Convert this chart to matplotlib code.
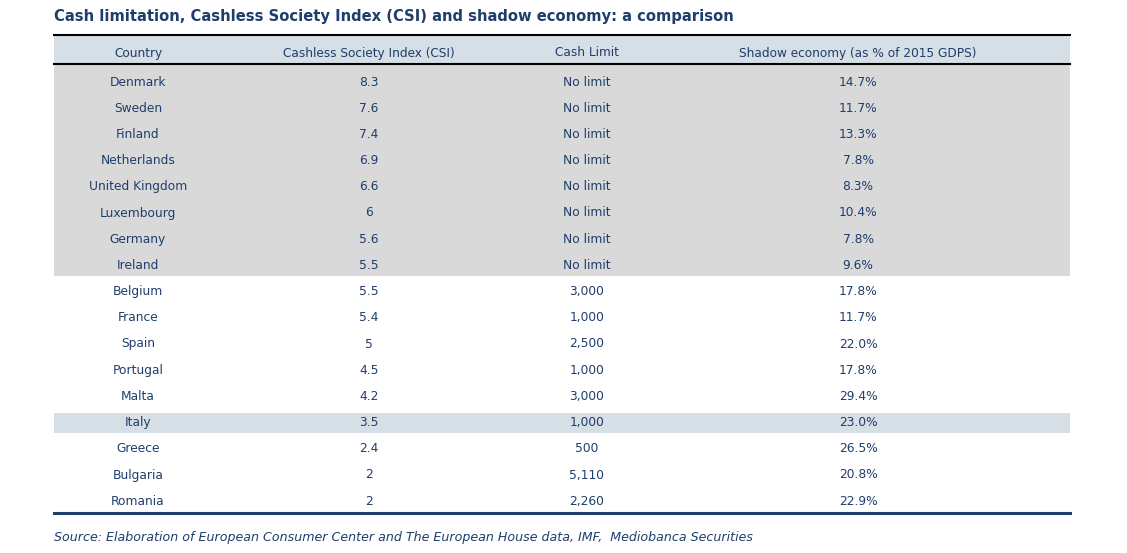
import matplotlib
matplotlib.use('Agg')
import matplotlib.pyplot as plt
from matplotlib.patches import Rectangle

# table data
countries = ['Denmark', 'Sweden', 'Finland', 'Netherlands', 'United Kingdom', 'Luxembourg',
             'Germany', 'Ireland', 'Belgium', 'France', 'Spain', 'Portugal', 'Malta',
             'Italy', 'Greece', 'Bulgaria', 'Romania']
csi = ['8.3', '7.6', '7.4', '6.9', '6.6', '6', '5.6', '5.5', '5.5', '5.4', '5', '4.5', '4.2',
       '3.5', '2.4', '2', '2']
cash_limit = ['No limit'] * 8 + ['3,000', '1,000', '2,500', '1,000', '3,000', '1,000',
                                 '500', '5,110', '2,260']
shadow = ['14.7%', '11.7%', '13.3%', '7.8%', '8.3%', '10.4%', '7.8%', '9.6%', '17.8%',
          '11.7%', '22.0%', '17.8%', '29.4%', '23.0%', '26.5%', '20.8%', '22.9%']
headers = ['Country', 'Cashless Society Index (CSI)', 'Cash Limit',
           'Shadow economy (as % of 2015 GDPS)']

NAVY = '#1F3E6B'
HEAD_BG = '#D6DEE6'
GRAY = '#D9D9D9'

W, H = 1127, 553
fig = plt.figure(figsize=(W / 100, H / 100), dpi=100)
ax = fig.add_axes([0, 0, 1, 1])
ax.set_xlim(0, W)
ax.set_ylim(H, 0)
ax.axis('off')

x0, x1 = 54, 1070
col_x = [138, 369, 587, 858]
y_top, y_head = 35, 63.5
y_first, row_h = 82, 26.2
centers = [y_first + i * row_h for i in range(len(countries))]

plt.rcParams['font.family'] = ['DejaVu Sans']

ax.text(x0, 17, 'Cash limitation, Cashless Society Index (CSI) and shadow economy: a comparison',
        fontsize=10.6, fontweight='bold', color=NAVY, va='center', ha='left')

# header
ax.add_patch(Rectangle((x0, y_top), x1 - x0, y_head - y_top, color=HEAD_BG, lw=0))
ax.plot([x0, x1], [y_top, y_top], color='black', lw=1.5)
ax.plot([x0, x1], [y_head, y_head], color='black', lw=1.5)
for cx, h in zip(col_x, headers):
    ax.text(cx, 53, h, fontsize=8.7, color=NAVY, ha='center', va='center')

# shaded rows (no cash limit) and Italy highlight
n_nolimit = cash_limit.count('No limit')
ax.add_patch(Rectangle((x0, y_head + 1), x1 - x0, centers[n_nolimit - 1] + 10.5 - y_head - 1,
                       color=GRAY, lw=0))
i_it = countries.index('Italy')
ax.add_patch(Rectangle((x0, centers[i_it] - 10), x1 - x0, 20, color=HEAD_BG, lw=0))

for y, row in zip(centers, zip(countries, csi, cash_limit, shadow)):
    for cx, val in zip(col_x, row):
        ax.text(cx, y, val, fontsize=8.8, color=NAVY, ha='center', va='center')

ax.plot([x0, x1], [513, 513], color=NAVY, lw=2.2)

ax.text(x0, 538, 'Source: Elaboration of European Consumer Center and The European House data, IMF,  '
        'Mediobanca Securities', fontsize=9.1, style='italic', color=NAVY, ha='left', va='center')

fig.savefig('out.png', dpi=100)
